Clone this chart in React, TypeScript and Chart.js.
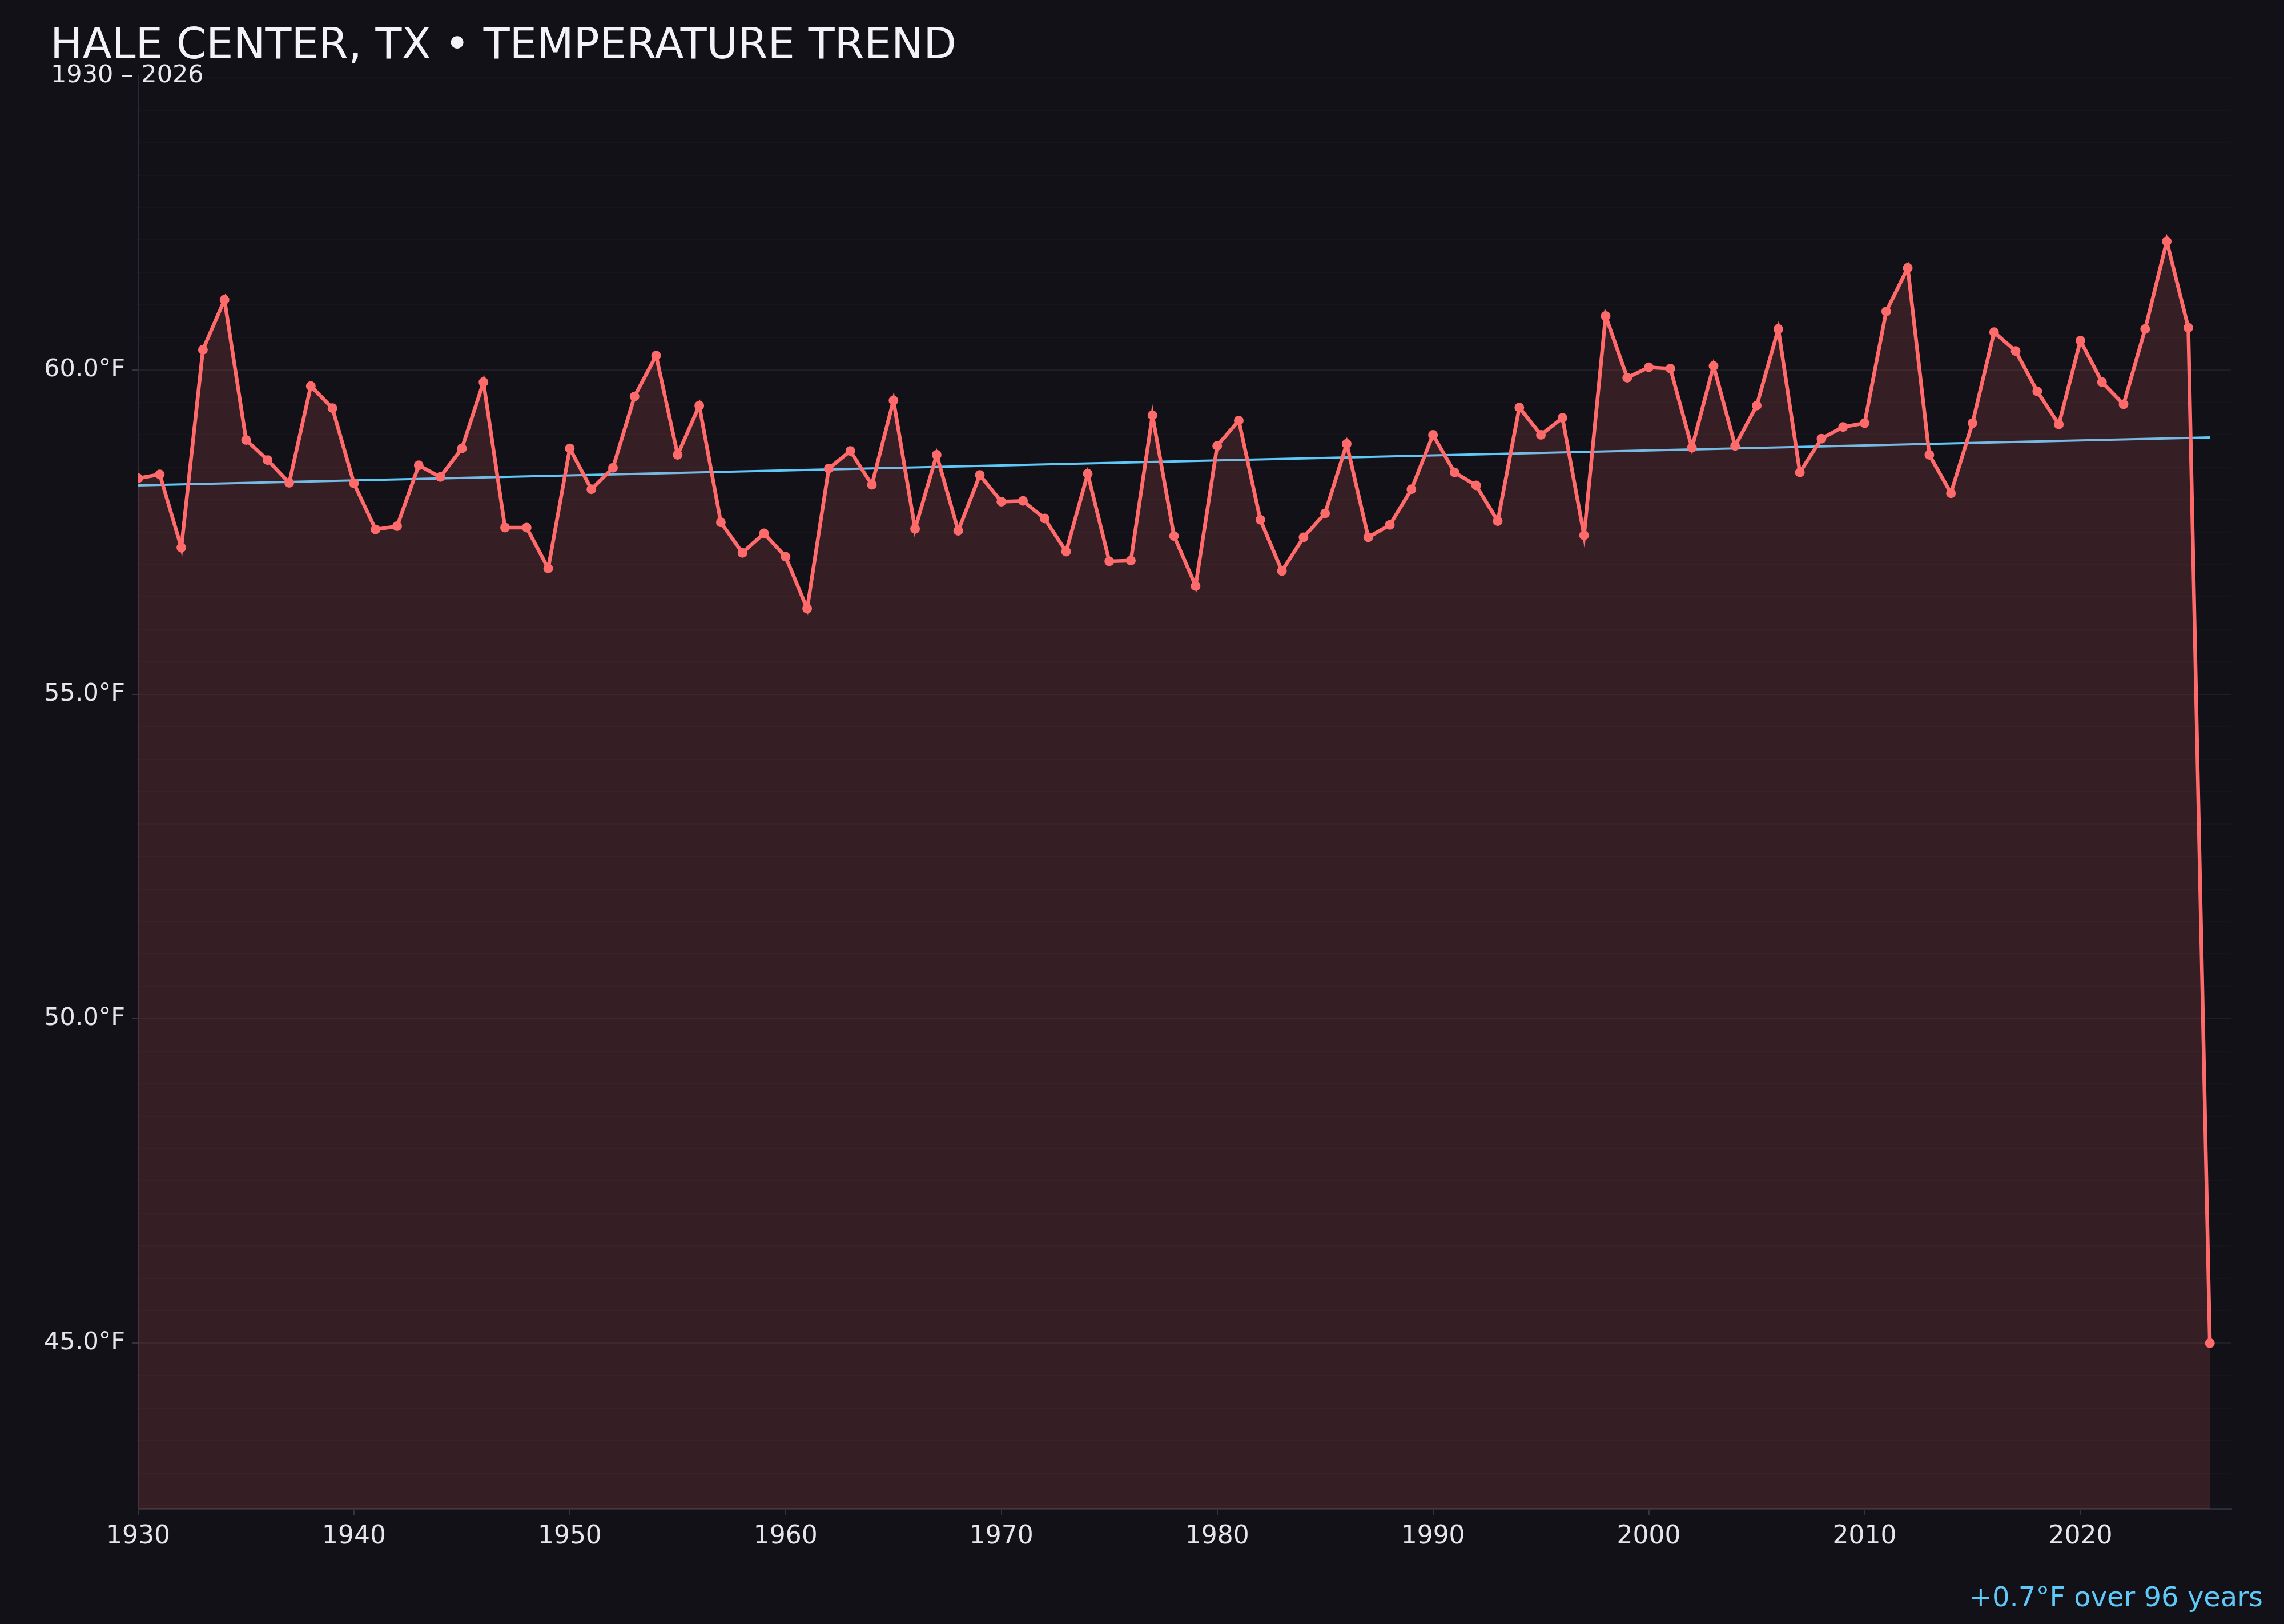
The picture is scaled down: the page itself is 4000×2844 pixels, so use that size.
import React, { useEffect, useRef } from 'react';
import { Chart, registerables } from 'chart.js';

Chart.register(...registerables);

const years = [
  1930, 1931, 1932, 1933, 1934, 1935, 1936, 1937, 1938, 1939,
  1940, 1941, 1942, 1943, 1944, 1945, 1946, 1947, 1948, 1949,
  1950, 1951, 1952, 1953, 1954, 1955, 1956, 1957, 1958, 1959,
  1960, 1961, 1962, 1963, 1964, 1965, 1966, 1967, 1968, 1969,
  1970, 1971, 1972, 1973, 1974, 1975, 1976, 1977, 1978, 1979,
  1980, 1981, 1982, 1983, 1984, 1985, 1986, 1987, 1988, 1989,
  1990, 1991, 1992, 1993, 1994, 1995, 1996, 1997, 1998, 1999,
  2000, 2001, 2002, 2003, 2004, 2005, 2006, 2007, 2008, 2009,
  2010, 2011, 2012, 2013, 2014, 2015, 2016, 2017, 2018, 2019,
  2020, 2021, 2022, 2023, 2024, 2025, 2026,
];

const temps = [
  58.33, 58.39, 57.26, 60.31, 61.08, 58.92, 58.61, 58.26, 59.75, 59.41,
  58.25, 57.54, 57.59, 58.53, 58.35, 58.79, 59.81, 57.57, 57.57, 56.94,
  58.79, 58.16, 58.49, 59.59, 60.22, 58.69, 59.45, 57.65, 57.18, 57.48,
  57.12, 56.32, 58.48, 58.75, 58.23, 59.53, 57.55, 58.69, 57.52, 58.38,
  57.97, 57.98, 57.71, 57.2, 58.4, 57.05, 57.06, 59.3, 57.44, 56.67,
  58.83, 59.22, 57.69, 56.9, 57.42, 57.79, 58.86, 57.42, 57.61, 58.16,
  59.0, 58.42, 58.22, 57.67, 59.42, 59.0, 59.26, 57.45, 60.83, 59.88,
  60.04, 60.02, 58.8, 60.06, 58.83, 59.45, 60.63, 58.42, 58.94, 59.12,
  59.18, 60.9, 61.57, 58.69, 58.1, 59.18, 60.58, 60.29, 59.67, 59.16,
  60.45, 59.81, 59.47, 60.63, 61.98, 60.65, 45.0,
];

const trendYears = [1930, 2026];
const trendTemps = [58.22, 58.96];

const titleText = 'HALE CENTER, TX • TEMPERATURE TREND';
const subtitleText = '1930 – 2026';
const trendNote = '+0.7°F over 96 years';

const xMin = 1930;
const xMax = 2027;
const xStep = 10;
const yMin = 42.45;
const yMax = 64.53;
const yStep = 0.5;
const yLabelEvery = 5;

const FONT = "'DejaVu Sans', 'Noto Sans', sans-serif";
const BG = '#121118';

export default function App() {
  const ref = useRef<HTMLCanvasElement>(null);

  useEffect(() => {
    const canvas = ref.current;
    if (!canvas) return;
    Chart.defaults.font.family = FONT;
    const isMajor = (v: number) => Math.abs(v / yLabelEvery - Math.round(v / yLabelEvery)) < 1e-6;

    const chart = new Chart(canvas, {
      type: 'line',
      data: {
        datasets: [
          {
            data: years.map((y, i) => ({ x: y, y: temps[i] })),
            borderColor: '#ff6b6b',
            backgroundColor: 'rgba(255,107,107,0.15)',
            fill: 'start',
            borderWidth: 6.5,
            pointRadius: 7,
            pointBorderWidth: 3,
            pointBackgroundColor: '#ff6b6b',
            pointBorderColor: '#ff6b6b',
            tension: 0,
            order: 0,
          },
          {
            data: trendYears.map((y, i) => ({ x: y, y: trendTemps[i] })),
            borderColor: '#5ec8f8',
            borderWidth: 4,
            pointRadius: 0,
            fill: false,
            tension: 0,
            order: 1,
          },
        ],
      },
      options: {
        animation: false,
        responsive: false,
        devicePixelRatio: 1,
        layout: { padding: { left: 0, top: 133, right: 92, bottom: 0 } },
        plugins: {
          legend: { display: false },
          tooltip: { enabled: false },
          title: { display: false },
        },
        scales: {
          x: {
            type: 'linear',
            min: xMin,
            max: xMax,
            afterFit: (s: any) => {
              s.height = 202;
            },
            grid: {
              drawOnChartArea: false,
              drawTicks: true,
              tickLength: 11,
              tickColor: '#34343e',
              lineWidth: 2,
            },
            border: { display: true, color: '#2c2c36', width: 3 },
            ticks: {
              stepSize: xStep,
              includeBounds: false,
              autoSkip: false,
              maxRotation: 0,
              padding: 12,
              color: '#e6e6ea',
              font: { size: 44, family: FONT },
              callback: (v: any) => String(v),
            },
          },
          y: {
            type: 'linear',
            min: yMin,
            max: yMax,
            afterFit: (s: any) => {
              s.width = 242;
            },
            grid: {
              color: (ctx: any) =>
                ctx.tick && isMajor(ctx.tick.value) ? 'rgba(255,255,255,0.055)' : 'rgba(255,255,255,0.02)',
              lineWidth: 2,
              tickLength: 11,
              tickColor: (ctx: any) => (ctx.tick && isMajor(ctx.tick.value) ? '#34343e' : 'rgba(0,0,0,0)'),
            },
            border: { display: true, color: '#2a2a33', width: 2 },
            ticks: {
              stepSize: yStep,
              includeBounds: false,
              autoSkip: false,
              padding: 12,
              color: '#e6e6ea',
              font: { size: 43, family: FONT },
              callback: (v: any) => (isMajor(Number(v)) ? Number(v).toFixed(1) + '°F' : ''),
            },
          },
        },
      },
    } as any);

    return () => chart.destroy();
  }, []);

  return (
    <div
      style={{
        position: 'fixed',
        left: 0,
        top: 0,
        width: 4000,
        height: 2844,
        background: BG,
        overflow: 'hidden',
        fontFamily: FONT,
      }}
    >
      <canvas
        ref={ref}
        width={4000}
        height={2844}
        style={{ position: 'absolute', left: 0, top: 0, width: 4000, height: 2844 }}
      />
      <div
        style={{
          position: 'absolute',
          left: 88,
          top: 38.5,
          fontSize: 75,
          lineHeight: 1,
          color: '#f2f2f7',
          whiteSpace: 'nowrap',
        }}
      >
        {titleText}
      </div>
      <div
        style={{
          position: 'absolute',
          left: 89,
          top: 107.6,
          fontSize: 43,
          lineHeight: 1,
          color: '#e8e8ee',
          whiteSpace: 'nowrap',
        }}
      >
        {subtitleText}
      </div>
      <div
        style={{
          position: 'absolute',
          right: 37,
          top: 2772,
          fontSize: 48,
          lineHeight: 1,
          color: '#5ec8f8',
          whiteSpace: 'nowrap',
        }}
      >
        {trendNote}
      </div>
    </div>
  );
}
